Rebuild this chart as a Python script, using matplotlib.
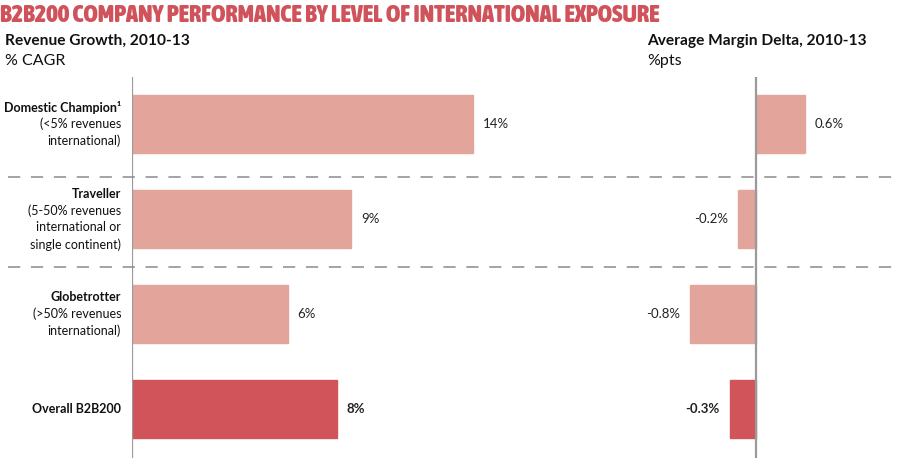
import numpy as np
import matplotlib.pyplot as plt
from matplotlib.lines import Line2D
from matplotlib import font_manager
from matplotlib.font_manager import FontProperties

# ===============================
# Data
# ===============================
categories = ["Domestic Champion\u00b9", "Traveller", "Globetrotter", "Overall B2B200"]
cat_notes = ["(<5% revenues\ninternational)",
             "(5-50% revenues\ninternational or\nsingle continent)",
             "(>50% revenues\ninternational)",
             ""]
revenue_growth = [14.0, 9.0, 6.4, 8.4]     # % CAGR
margin_delta = [0.6, -0.22, -0.8, -0.32]   # %pts
revenue_labels = ["14%", "9%", "6%", "8%"]
margin_labels = ["0.6%", "-0.2%", "-0.8%", "-0.3%"]

LIGHT = "#e3a59b"
DARK = "#d0545a"
TITLE_RED = "#d0525a"
AXIS_GRAY = "#9a9a9a"
BODY_FONT = "Lato"

W, H = 900, 462
fig = plt.figure(figsize=(9, 4.62), dpi=100)

# pick the heaviest narrow face for the headline if one is installed
cands = [f for f in font_manager.fontManager.ttflist
         if ("Condensed" in f.name or "Narrow" in f.name
             or str(f.stretch) in ("condensed", "semi-condensed", "extra-condensed"))
         and "italic" not in str(f.style).lower()]
cands.sort(key=lambda f: -(f.weight if isinstance(f.weight, int) else 400))
if cands:
    title_fp = FontProperties(fname=cands[0].fname)
else:
    title_fp = FontProperties(family="Lato", weight="black")

def fig_rect(x0, y0, x1, y1):
    # pixel box (top-left origin) -> figure fraction rect
    return [x0 / W, 1 - y1 / H, (x1 - x0) / W, (y1 - y0) / H]

y = np.arange(len(categories))
colors = [LIGHT, LIGHT, LIGHT, DARK]
ylim = (3.516, -0.495)
bar_h = 0.61

# ===============================
# Left panel: revenue growth
# ===============================
ax1 = fig.add_axes(fig_rect(132, 77, 600, 458))
ax1.barh(y, revenue_growth, height=bar_h, color=colors, edgecolor=colors)
ax1.set_xlim(0, (600 - 132) / 24.36)
ax1.set_ylim(*ylim)
ax1.axvline(0, color=AXIS_GRAY, lw=1.6)
for i, (v, lab) in enumerate(zip(revenue_growth, revenue_labels)):
    ax1.text(v + 0.4, i, lab, va="center", ha="left", fontsize=9.5, family=BODY_FONT,
             fontweight="bold" if i == 3 else "normal", color="#222222")
ax1.axis("off")

# category labels
for i, (c, n) in enumerate(zip(categories, cat_notes)):
    lines = [c] + (n.split("\n") if n else [])
    nl = len(lines)
    step = 0.178
    start = i - step * (nl - 1) / 2
    for k, l in enumerate(lines):
        ax1.text(-0.45, start + k * step, l, ha="right", va="center",
                 fontsize=9, color="#111111", family=BODY_FONT,
                 fontweight="bold" if k == 0 else "normal",
                 clip_on=False)

# ===============================
# Right panel: margin delta
# ===============================
ax2 = fig.add_axes(fig_rect(640, 77, 900, 458))
ax2.barh(y, margin_delta, height=bar_h, color=colors, edgecolor=colors)
ax2.set_xlim((640 - 756) / 82.0, (900 - 756) / 82.0)
ax2.set_ylim(*ylim)
ax2.axvline(0, color=AXIS_GRAY, lw=1.6)
for i, (v, lab) in enumerate(zip(margin_delta, margin_labels)):
    if v >= 0:
        ax2.text(v + 0.12, i, lab, va="center", ha="left", fontsize=9.5,
                 family=BODY_FONT, color="#222222")
    else:
        ax2.text(v - 0.12, i, lab, va="center", ha="right", fontsize=9.5,
                 family=BODY_FONT, fontweight="bold" if i == 3 else "normal",
                 color="#222222")
ax2.axis("off")

# dashed separators across the whole figure
for yy in [0.56, 1.5]:
    fy = ax1.transData.transform((0, yy))[1] / fig.bbox.height
    fig.add_artist(Line2D([8 / W, 897 / W], [fy, fy], color="#8a8a8a",
                          lw=1.1, linestyle=(0, (8, 7))))

# ===============================
# Titles
# ===============================
title = fig.text(0 / W, 1 - 16 / H,
                 "B2B200 COMPANY PERFORMANCE BY LEVEL OF INTERNATIONAL EXPOSURE",
                 fontproperties=title_fp, fontsize=24,
                 color=TITLE_RED, va="center", ha="left")
# scale the headline so it spans the same width as the original
renderer = fig.canvas.get_renderer()
tw = title.get_window_extent(renderer).width
title.set_fontsize(24 * 658 / tw)

fig.text(5 / W, 1 - 41 / H, "Revenue Growth, 2010-13", fontsize=11.2,
         fontweight="bold", va="center", color="#111111", family=BODY_FONT)
fig.text(5 / W, 1 - 61 / H, "% CAGR", fontsize=11.5, va="center", color="#111111",
         family=BODY_FONT)
fig.text(647 / W, 1 - 41 / H, "Average Margin Delta, 2010-13", fontsize=11.2,
         fontweight="bold", va="center", color="#111111", family=BODY_FONT)
fig.text(647 / W, 1 - 61 / H, "%pts", fontsize=11.5, va="center", color="#111111",
         family=BODY_FONT)

fig.savefig("out.png", dpi=100)
